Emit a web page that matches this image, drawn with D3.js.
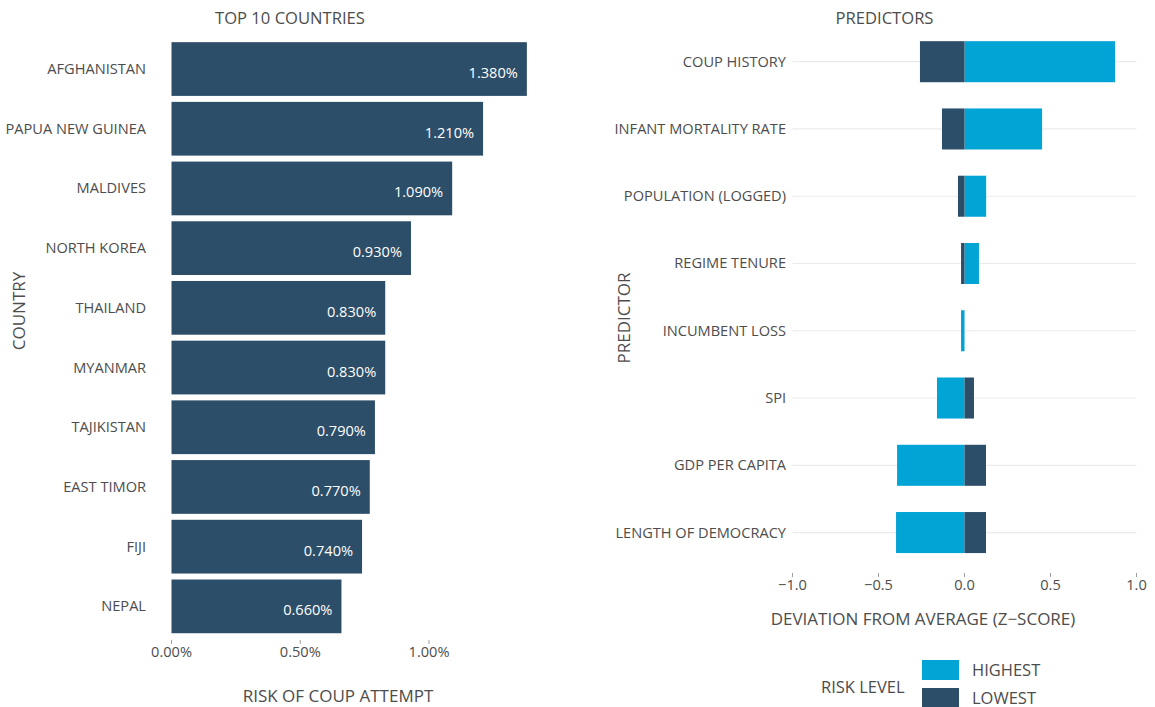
<!DOCTYPE html>
<html>
<head>
<meta charset="utf-8">
<script src="https://cdn.jsdelivr.net/npm/d3@7"></script>
<style>
    body { margin: 0; background: #fff; }
    svg text { font-family: "Open Sans", sans-serif; fill: #4d4d4d; }
</style>
</head>
<body>
<svg id="chart" width="1155" height="707"></svg>
<script>
// Left panel data
const countries = ["AFGHANISTAN", "PAPUA NEW GUINEA", "MALDIVES", "NORTH KOREA", "THAILAND",
    "MYANMAR", "TAJIKISTAN", "EAST TIMOR", "FIJI", "NEPAL"];
const coupRisk = [1.38, 1.21, 1.09, 0.93, 0.83, 0.83, 0.79, 0.77, 0.74, 0.66];
const riskTicks = [0, 0.5, 1.0];

// Right panel data
const predictors = ["COUP HISTORY", "INFANT MORTALITY RATE", "POPULATION (LOGGED)", "REGIME TENURE",
    "INCUMBENT LOSS", "SPI", "GDP PER CAPITA", "LENGTH OF DEMOCRACY"];
const highestRisk = [0.875, 0.451, 0.126, 0.084, -0.02, -0.16, -0.392, -0.398];
const lowestRisk = [-0.259, -0.131, -0.038, -0.02, 0, 0.055, 0.125, 0.125];
const zTicks = [-1, -0.5, 0, 0.5, 1];
const riskLevels = ["HIGHEST", "LOWEST"];

const darkBlue = "#2c4e69";
const lightBlue = "#00a4d5";
const tickColor = "#a0a0a0";
const labelSize = "14.6px";

const svg = d3.select("#chart");

// ---------- Left: top 10 countries ----------
const xLeft = d3.scaleLinear().domain([0, 1]).range([171.5, 429]);
const yLeft = d3.scaleBand().domain(countries).range([36.2, 639.2]).padding(0.1);

const leftData = countries.map((c, i) => ({ country: c, value: coupRisk[i] }));

svg.append("g")
    .selectAll("rect")
    .data(leftData)
    .join("rect")
    .attr("x", xLeft(0))
    .attr("y", d => yLeft(d.country))
    .attr("width", d => xLeft(d.value) - xLeft(0))
    .attr("height", yLeft.bandwidth())
    .attr("fill", darkBlue);

// value labels inside the bars
svg.append("g")
    .selectAll("text")
    .data(leftData)
    .join("text")
    .attr("x", d => xLeft(d.value) - 9)
    .attr("y", d => yLeft(d.country) + yLeft.bandwidth() / 2 + 9)
    .attr("text-anchor", "end")
    .style("fill", "#fff")
    .style("font-size", labelSize)
    .text(d => d.value.toFixed(3) + "%");

// country labels
svg.append("g")
    .selectAll("text")
    .data(countries)
    .join("text")
    .attr("x", 146)
    .attr("y", d => yLeft(d) + yLeft.bandwidth() / 2 + 5)
    .attr("text-anchor", "end")
    .style("font-size", labelSize)
    .text(d => d);

// x axis ticks
const leftTicks = svg.append("g");
leftTicks.selectAll("line")
    .data(riskTicks)
    .join("line")
    .attr("x1", d => xLeft(d))
    .attr("x2", d => xLeft(d))
    .attr("y1", 640)
    .attr("y2", 644)
    .attr("stroke", tickColor);
leftTicks.selectAll("text")
    .data(riskTicks)
    .join("text")
    .attr("x", d => xLeft(d))
    .attr("y", 657)
    .attr("text-anchor", "middle")
    .style("font-size", labelSize)
    .text(d => d.toFixed(2) + "%");

svg.append("text")
    .attr("x", 338).attr("y", 702)
    .attr("text-anchor", "middle")
    .style("font-size", "17px")
    .text("RISK OF COUP ATTEMPT");

svg.append("text")
    .attr("transform", "translate(25,311) rotate(-90)")
    .attr("text-anchor", "middle")
    .style("font-size", "17px")
    .text("COUNTRY");

svg.append("text")
    .attr("x", 290).attr("y", 24)
    .attr("text-anchor", "middle")
    .style("font-size", "16.6px")
    .text("TOP 10 COUNTRIES");

// ---------- Right: predictors ----------
const xRight = d3.scaleLinear().domain([-1, 1]).range([792.5, 1136.5]);
const yRight = d3.scaleBand().domain(predictors).range([14.95, 579.3]).padding(0.39);

// horizontal gridlines
svg.append("g")
    .selectAll("line")
    .data(predictors)
    .join("line")
    .attr("x1", xRight(-1))
    .attr("x2", xRight(1))
    .attr("y1", d => yRight(d) + yRight.bandwidth() / 2)
    .attr("y2", d => yRight(d) + yRight.bandwidth() / 2)
    .attr("stroke", "#ebebeb")
    .attr("stroke-width", 1.2);

// overlaid bars, both start at zero
const drawSeries = (values, color) => {
    svg.append("g")
        .selectAll("rect")
        .data(predictors.map((p, i) => ({ predictor: p, value: values[i] })))
        .join("rect")
        .attr("x", d => xRight(Math.min(0, d.value)))
        .attr("y", d => yRight(d.predictor))
        .attr("width", d => Math.abs(xRight(d.value) - xRight(0)))
        .attr("height", yRight.bandwidth())
        .attr("fill", color);
};
drawSeries(highestRisk, lightBlue);
drawSeries(lowestRisk, darkBlue);

svg.append("g")
    .selectAll("text")
    .data(predictors)
    .join("text")
    .attr("x", 786)
    .attr("y", d => yRight(d) + yRight.bandwidth() / 2 + 5)
    .attr("text-anchor", "end")
    .style("font-size", labelSize)
    .text(d => d);

const zFormat = d3.format(".1f");
const rightTicks = svg.append("g");
rightTicks.selectAll("line")
    .data(zTicks)
    .join("line")
    .attr("x1", d => xRight(d))
    .attr("x2", d => xRight(d))
    .attr("y1", 573)
    .attr("y2", 577)
    .attr("stroke", tickColor);
rightTicks.selectAll("text")
    .data(zTicks)
    .join("text")
    .attr("x", d => xRight(d))
    .attr("y", 590)
    .attr("text-anchor", "middle")
    .style("font-size", labelSize)
    .text(d => zFormat(d));

svg.append("text")
    .attr("x", 923).attr("y", 625)
    .attr("text-anchor", "middle")
    .style("font-size", "17px")
    .text("DEVIATION FROM AVERAGE (Z\u2212SCORE)");

svg.append("text")
    .attr("transform", "translate(630,318) rotate(-90)")
    .attr("text-anchor", "middle")
    .style("font-size", "17px")
    .text("PREDICTOR");

svg.append("text")
    .attr("x", 884.5).attr("y", 24)
    .attr("text-anchor", "middle")
    .style("font-size", "16.6px")
    .text("PREDICTORS");

// legend
const legend = svg.append("g");
legend.append("text")
    .attr("x", 821).attr("y", 693)
    .style("font-size", "16.5px")
    .text("RISK LEVEL");

const legendColor = d3.scaleOrdinal().domain(riskLevels).range([lightBlue, darkBlue]);
const legendY = d3.scalePoint().domain(riskLevels).range([670, 698]);

legend.selectAll("rect")
    .data(riskLevels)
    .join("rect")
    .attr("x", 922)
    .attr("y", d => legendY(d) - 10)
    .attr("width", 37)
    .attr("height", 20)
    .attr("fill", d => legendColor(d));

legend.selectAll("text.key")
    .data(riskLevels)
    .join("text")
    .attr("class", "key")
    .attr("x", 972)
    .attr("y", d => legendY(d) + 6)
    .style("font-size", "16.5px")
    .text(d => d);
</script>
</body>
</html>
